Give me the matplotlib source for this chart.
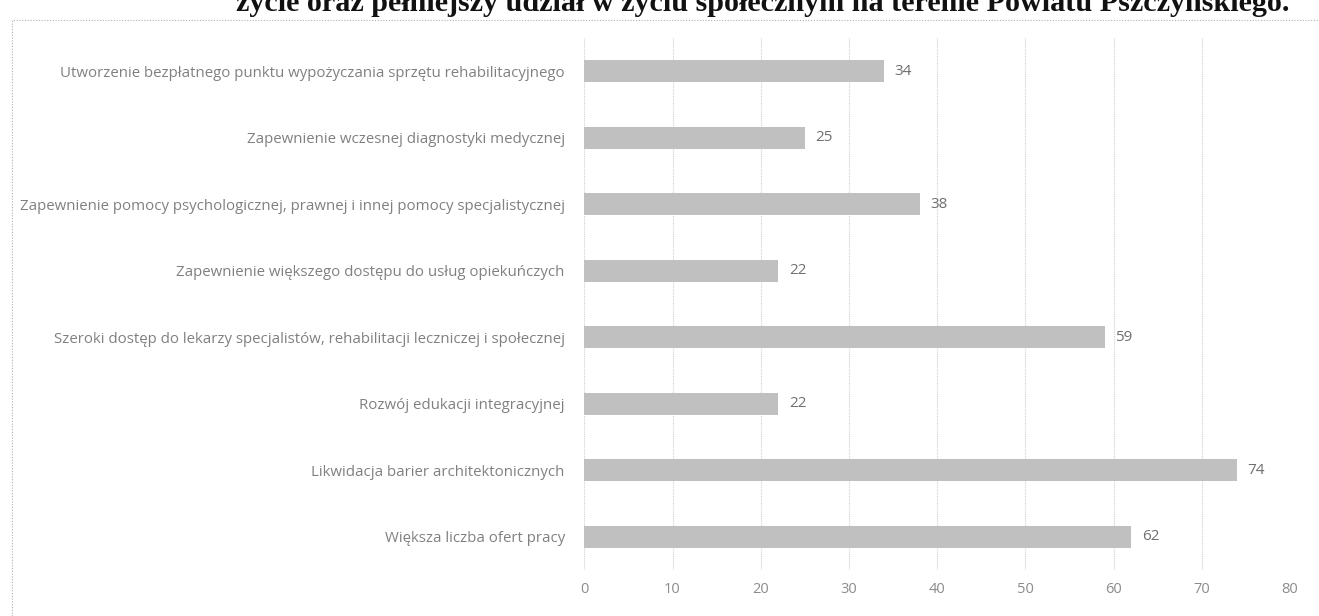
import matplotlib.pyplot as plt
from matplotlib.patches import Rectangle

# data (top to bottom as in the chart)
categories = [
    "Utworzenie bezpłatnego punktu wypożyczania sprzętu rehabilitacyjnego",
    "Zapewnienie wczesnej diagnostyki medycznej",
    "Zapewnienie pomocy psychologicznej, prawnej i innej pomocy specjalistycznej",
    "Zapewnienie większego dostępu do usług opiekuńczych",
    "Szeroki dostęp do lekarzy specjalistów, rehabilitacji leczniczej i społecznej",
    "Rozwój edukacji integracyjnej",
    "Likwidacja barier architektonicznych",
    "Większa liczba ofert pracy",
]
values = [34, 25, 38, 22, 59, 22, 74, 62]
x_ticks = [0, 10, 20, 30, 40, 50, 60, 70, 80]
title = "życie oraz pełniejszy udział w życiu społecznym na terenie Powiatu Pszczyńskiego."

plt.rcParams['font.family'] = ['Open Sans', 'DejaVu Sans']

fig = plt.figure(figsize=(13.19, 6.16), dpi=100)
ax = fig.add_axes([0.443, 0.075, 0.535, 0.863])

pos = list(range(len(categories)))
ax.barh(pos, values, height=0.33, color='#c0c0c0')
ax.set_ylim(len(categories) - 0.5, -0.5)
ax.set_xlim(0, 80)

ax.set_yticks(pos)
ax.set_yticklabels(categories, fontsize=10.8, color='#808080')
ax.set_xticks(x_ticks)
ax.set_xticklabels([str(t) for t in x_ticks], fontsize=10.5, color='#8c8c8c')
ax.tick_params(axis='both', length=0)
ax.tick_params(axis='y', pad=14)
ax.tick_params(axis='x', pad=9)

for s in ax.spines.values():
    s.set_visible(False)
ax.grid(axis='x', color='#d0d0d0', linestyle=(0, (1, 1)), linewidth=0.8)
ax.set_axisbelow(True)

for p, v in zip(pos, values):
    ax.text(v + 1.2, p, str(v), va='center', ha='left', fontsize=11, color='#6f6f6f')

# chart area border (dotted, like the scanned frame)
fig.patches.append(Rectangle((12 / 1319, -0.01), 1.0, 1 - 20 / 616 + 0.01,
                             transform=fig.transFigure, fill=False,
                             edgecolor='#b0b0b0', linestyle=(0, (1, 1.5)), linewidth=0.8))

# title, cut off at the top like in the scan
fig.text(0.578, 1 - 11 / 616, title, ha='center', va='baseline', fontsize=21.7,
         fontweight='bold', family=['Liberation Serif', 'DejaVu Serif'], color='#111111')

fig.savefig('out.png', dpi=100)
